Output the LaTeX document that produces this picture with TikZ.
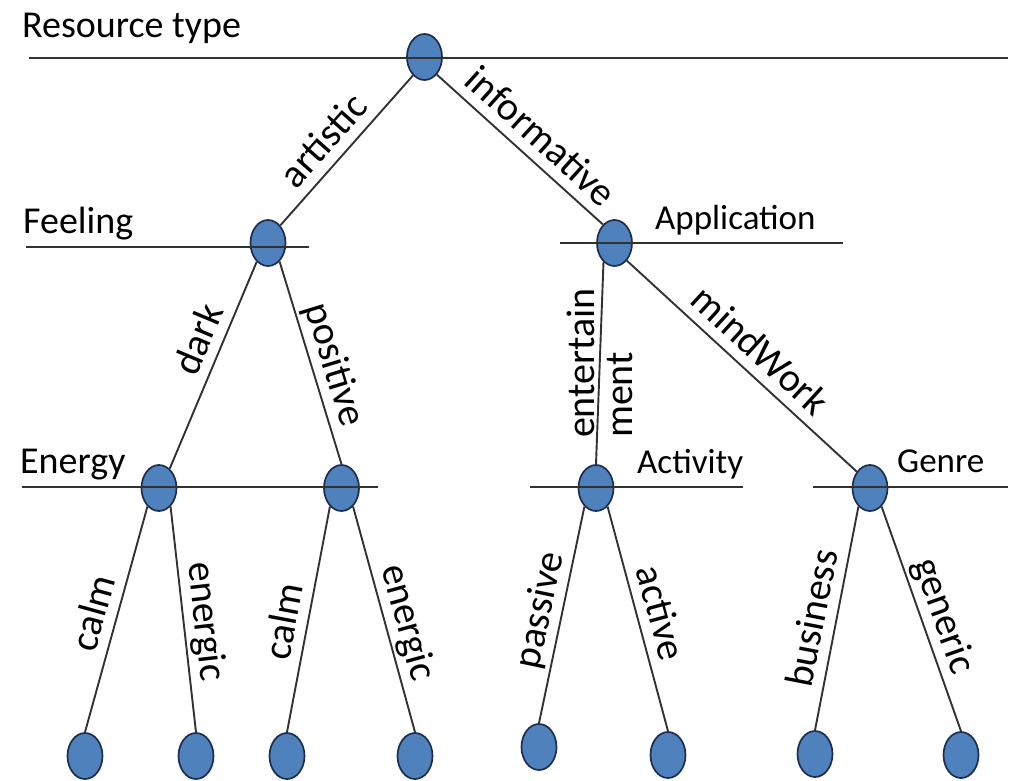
\documentclass[tikz,border=0pt]{standalone}
\usepackage{fontspec}
\setmainfont{Carlito}
\usetikzlibrary{shapes.geometric}
\definecolor{nodefill}{RGB}{79,129,189}
\definecolor{nodeline}{RGB}{28,45,80}
\definecolor{linecol}{RGB}{50,50,50}
\begin{document}
\begin{tikzpicture}[x=1pt,y=-1pt,
  tnode/.style={ellipse, draw=nodeline, fill=nodefill, line width=1.7pt,
                minimum width=35pt, minimum height=46pt, inner sep=0pt},
  lvl/.style={draw=linecol, line width=2.7pt},
  conn/.style={draw=linecol, line width=1.9pt},
  cat/.style={anchor=base west, inner sep=0pt, font=\fontsize{38}{40}\selectfont},
  catr/.style={cat, font=\fontsize{35}{38}\selectfont},
  edgel/.style={sloped, above, inner sep=3pt, text depth=7pt,
                font=\fontsize{40}{38}\selectfont}]
\useasboundingbox (0,0) rectangle (1015,781);

% tree nodes
\node[tnode] (root) at (424.5,57) {};
\node[tnode] (feel) at (268,243) {};
\node[tnode] (app)  at (614.5,243) {};
\node[tnode] (enL)  at (159,488) {};
\node[tnode] (enR)  at (341.5,488) {};
\node[tnode] (act)  at (596,488) {};
\node[tnode] (gen)  at (870,488) {};
\node[tnode] (l1) at (85,756) {};
\node[tnode] (l2) at (196,756) {};
\node[tnode] (l3) at (287,756) {};
\node[tnode] (l4) at (415,756) {};
\node[tnode] (l5) at (539,747) {};
\node[tnode] (l6) at (668,755) {};
\node[tnode] (l7) at (815,754) {};
\node[tnode] (l8) at (961,755) {};

% connectors with labels
\draw[conn] (feel.55) -- node[edgel, pos=0.46] {artistic} (root.238);
\draw[conn] (root.305) -- node[edgel, pos=0.53] {informative} (app.122);
\draw[conn] (enL.61) -- node[edgel, pos=0.58] {dark} (feel.239);
\draw[conn] (feel.302) -- node[edgel, pos=0.54] {positive} (enR.north);
\draw[conn] (app.240) -- node[rotate=90, align=left, inner sep=0pt,
      font=\fontsize{40}{38}\selectfont] {entertain\\ment} (act.north);
\draw[conn] (app.305) -- node[edgel, pos=0.51] {mindWork} (gen.129);
\draw[conn] (l1.north) -- node[edgel, pos=0.5] {calm} (enL.238);
\draw[conn] (enL.302) -- node[edgel, pos=0.52] {energic} (l2.north);
\draw[conn] (l3.north) -- node[edgel, pos=0.47] {calm} (enR.238);
\draw[conn] (enR.302) -- node[edgel, pos=0.54] {energic} (l4.north);
\draw[conn] (l5.north) -- node[edgel, pos=0.5] {passive} (act.238);
\draw[conn] (act.302) -- node[edgel, pos=0.5] {active} (l6.north);
\draw[conn] (l7.north) -- node[edgel, pos=0.48] {business} (gen.238);
\draw[conn] (gen.302) -- node[edgel, pos=0.52] {generic} (l8.north);

% level lines
\coordinate (r0a) at (29,58);   \coordinate (r0b) at (1008,58);
\coordinate (r1a) at (26,247);  \coordinate (r1b) at (309,247);
\coordinate (r2a) at (560,243); \coordinate (r2b) at (843,243);
\coordinate (r3a) at (22,487);  \coordinate (r3b) at (378,487);
\coordinate (r4a) at (530,487); \coordinate (r4b) at (743,487);
\coordinate (r5a) at (813,487); \coordinate (r5b) at (1008,487);
\draw[lvl] (r0a) -- (r0b);
\draw[lvl] (r1a) -- (r1b);
\draw[lvl] (r2a) -- (r2b);
\draw[lvl] (r3a) -- (r3b);
\draw[lvl] (r4a) -- (r4b);
\draw[lvl] (r5a) -- (r5b);

% level names
\node[cat]  (tres) at (22,38)  {Resource type};
\node[cat]  (tfee) at (23,233) {Feeling};
\node[catr] (tapp) at (655,229) {Application};
\node[cat]  (tene) at (20,473) {Energy};
\node[catr] (tact) at (637,473) {Activity};
\node[catr] (tgen) at (897,472) {Genre};
\end{tikzpicture}
\end{document}
